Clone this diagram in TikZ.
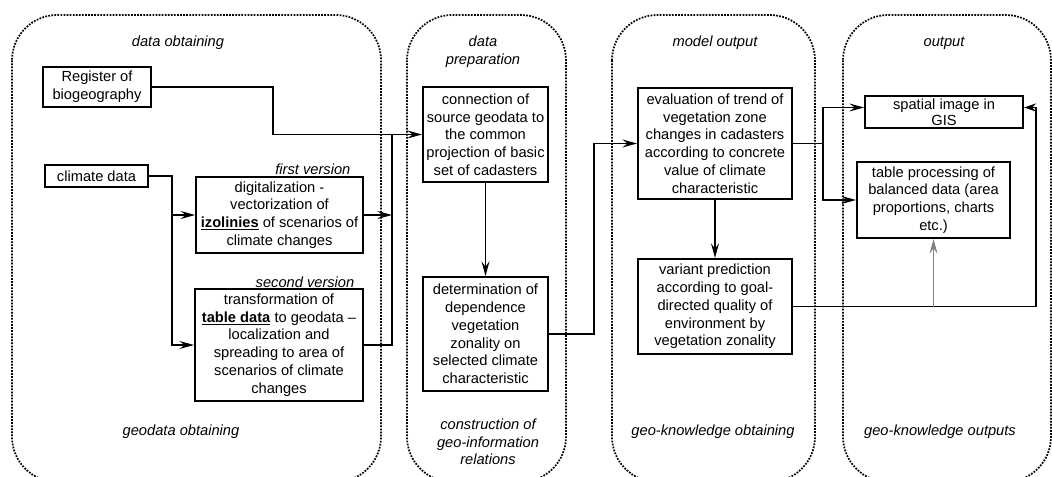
\documentclass[tikz,border=0pt]{standalone}
\usepackage{fontspec}
\setmainfont{Liberation Sans}
\usepackage{tikz}
\usetikzlibrary{arrows.meta}
\usetikzlibrary{positioning}

\begin{document}
\begin{tikzpicture}[x=0.75pt,y=-0.75pt,>={Stealth[length=11pt,width=6pt,inset=4pt]},
	line width=1pt,
	procbox/.style={draw,line width=1.5pt,align=center,inner sep=1pt,
		font=\fontsize{11}{13.3}\selectfont},
	grp/.style={draw,densely dotted,line width=1.3pt,rounded corners=34pt},
	lbl/.style={align=center,inner sep=0pt,font=\fontsize{11}{13.3}\selectfont\itshape}]
	
	\useasboundingbox (0,0) rectangle (1052,477);
	
	% group frames
	\draw[grp] (12,15) rectangle (381,482);
	\draw[grp] (407,15) rectangle (566,482);
	\draw[grp] (612,15) rectangle (815,482);
	\draw[grp] (843,15) rectangle (1051,482);
	
	\node[lbl] (t1) at (178,43) {data obtaining};
	\node[lbl] (b1) at (181,432) {geodata obtaining};
	\node[lbl] (t2) at (483,52) {data\\preparation};
	\node[lbl] (b2) at (488,442) {construction of\\geo-information\\relations};
	\node[lbl] (t3) at (715,43) {model output};
	\node[lbl] (b3) at (713,432) {geo-knowledge obtaining};
	\node[lbl] (t4) at (944,43) {output};
	\node[lbl] (b4) at (940,432) {geo-knowledge outputs};
	\node[lbl,anchor=east] (v1) at (351,169) {first version};
	\node[lbl,anchor=east] (v2) at (355,282) {second version};
	
	% boxes
	\node[procbox,minimum width=81pt,minimum height=30pt] (reg) at (97,87) {Register of\\biogeography};
	\node[procbox,minimum width=77pt,minimum height=16.5pt] (clim) at (96.5,176) {climate data};
	\node[procbox,minimum width=125pt,minimum height=57pt] (digit) at (279.5,215)
		{digitalization -\\vectorization of\\\underline{\textbf{izolinies}} of scenarios of\\climate changes};
	\node[procbox,minimum width=126pt,minimum height=84pt] (transf) at (279,345)
		{transformation of\\\underline{\textbf{table data}} to geodata --\\localization and\\spreading to area of\\scenarios of climate\\changes};
	\node[procbox,minimum width=93.75pt,minimum height=71.25pt] (conn) at (485.5,134.5)
		{connection of\\source geodata to\\the common\\projection of basic\\set of cadasters};
	\node[procbox,minimum width=93.75pt,minimum height=85.5pt] (determ) at (485.5,334)
		{determination of\\dependence\\vegetation\\zonality on\\selected climate\\characteristic};
	\node[procbox,minimum width=115.5pt,minimum height=83.25pt] (eval) at (715,143.5)
		{evaluation of trend of\\vegetation zone\\changes in cadasters\\according to concrete\\value of climate\\characteristic};
	\node[procbox,minimum width=115.5pt,minimum height=71.25pt] (variant) at (715,306.5)
		{variant prediction\\according to goal-\\directed quality of\\environment by\\vegetation zonality};
	\node[procbox,minimum width=118.5pt,minimum height=24pt,
		font=\fontsize{11}{12}\selectfont] (spatial) at (944,112.5)
		{spatial image in\\GIS};
	\node[procbox,minimum width=114.75pt,minimum height=57pt] (table) at (933.5,200)
		{table processing of\\balanced data (area\\proportions, charts\\etc.)};
	
	% junctions
	\coordinate (cb) at (172,0);
	\coordinate (bus) at (392,0);
	\coordinate (ob) at (823,0);
	\coordinate (rb) at (1036,0);
	\coordinate (spW) at ([yshift=3.75pt]spatial.west);
	\coordinate (spE) at ([yshift=3.75pt]spatial.east);
	
	% connectors
	\draw[->] (reg.east) -- ++(121,0) |- (conn.west);
	\draw[->] (clim.east) -| (cb |- digit.west) -- (digit.west);
	\draw[->] (cb |- digit.west) |- (transf.west);
	\draw[->] (digit.east) -- (bus |- digit.east);
	\draw (transf.east) -| (bus |- conn.west);
	\draw[->] (conn) -- (determ);
	\draw[->] (determ.east) -- ++(45,0) |- (eval.west);
	\draw[->] (eval) -- (variant);
	\draw (eval.east) -- (ob |- eval.east);
	\draw[->] (ob |- eval.east) |- (spW);
	\draw[->] (ob |- eval.east) |- (table.west);
	\draw (variant.east) -| (rb |- spE);
	\draw[-{Stealth[length=9pt,width=6pt,inset=3pt]}] (rb |- spE) -- (spE);
	\draw[->,gray] (table.south |- variant.east) -- (table.south);
\end{tikzpicture}
\end{document}
